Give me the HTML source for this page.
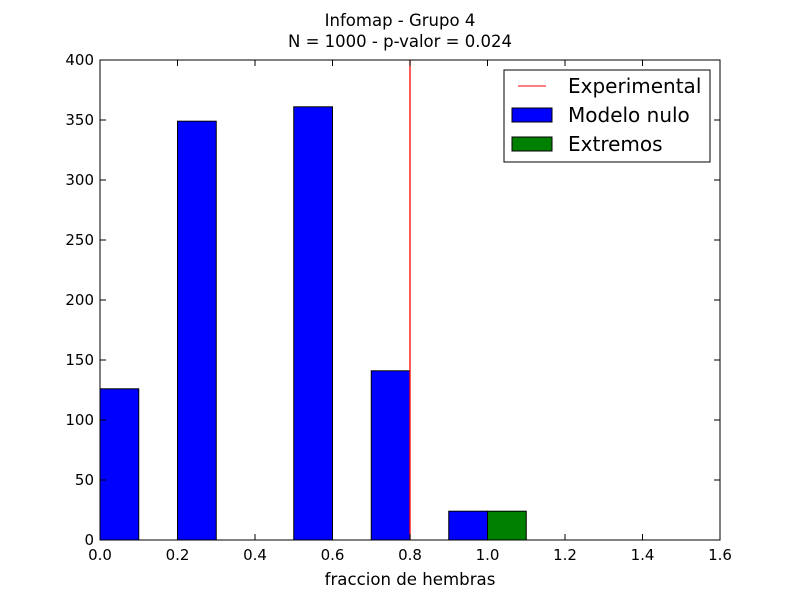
<!DOCTYPE html>
<html><head><meta charset="utf-8"><style>
body{margin:0;background:#fff;}
svg text{font-family:"DejaVu Sans","Liberation Sans",sans-serif;}
</style></head><body>
<svg id="chart" width="800" height="600" xmlns="http://www.w3.org/2000/svg">
<rect width="800" height="600" fill="#fff"/>
<text x="400" y="26" text-anchor="middle" font-size="16.5">Infomap - Grupo 4</text>
<text x="400" y="47" text-anchor="middle" font-size="16.5">N = 1000 - p-valor = 0.024</text>
<g id="bars"></g>
<g id="axes"></g>
<text x="410" y="585" text-anchor="middle" font-size="16.6">fraccion de hembras</text>
<g>
<rect x="504" y="70" width="206" height="92" fill="#fff" stroke="#000" stroke-width="1"/>
<line x1="518" y1="86" x2="546" y2="86" stroke="#ff0000"/>
<text x="568" y="93" font-size="20">Experimental</text>
<rect x="512" y="108" width="40" height="14" fill="#0000ff" stroke="#000"/>
<text x="568" y="122" font-size="20">Modelo nulo</text>
<rect x="512" y="137" width="40" height="14" fill="#008000" stroke="#000"/>
<text x="568" y="151" font-size="20">Extremos</text>
</g>
</svg>
<script>
const binStarts=[0,0.1,0.2,0.3,0.4,0.5,0.6,0.7,0.8,0.9,1.0,1.1,1.2,1.3,1.4];
const nullCounts=[126,0,349,0,0,361,0,141,0,24,0,0,0,0,0];
const extremeStarts=[1.0];
const extremeCounts=[24];
const binWidth=0.1;
const experimental=0.8;
const xTicks=[0,0.2,0.4,0.6,0.8,1.0,1.2,1.4,1.6];
const xTickLabels=["0.0","0.2","0.4","0.6","0.8","1.0","1.2","1.4","1.6"];
const yTicks=[0,50,100,150,200,250,300,350,400];
const L=100,R=720,T=60,B=540;
const xs=v=>L+(v-0)/(1.6)*(R-L);
const ys=v=>B-v/400*(B-T);
const NS="http://www.w3.org/2000/svg";
function mk(tag,attrs,parent){const e=document.createElementNS(NS,tag);for(const k in attrs)e.setAttribute(k,attrs[k]);parent.appendChild(e);return e;}
const bars=document.getElementById('bars'),axes=document.getElementById('axes');
mk('line',{x1:xs(0),y1:B,x2:xs(1.5),y2:B,stroke:'#000'},bars);
binStarts.forEach((s,i)=>{if(nullCounts[i]<=0)return;
const r=mk('rect',{x:xs(s),y:ys(nullCounts[i]),width:xs(s+binWidth)-xs(s),height:B-ys(nullCounts[i]),fill:'#0000ff',stroke:'#000'},bars);

});
extremeStarts.forEach((s,i)=>{
const r=mk('rect',{x:xs(s),y:ys(extremeCounts[i]),width:xs(s+binWidth)-xs(s),height:B-ys(extremeCounts[i]),fill:'#008000',stroke:'#000'},bars);

});
const ex=mk('line',{x1:xs(experimental),y1:T,x2:xs(experimental),y2:B,stroke:'#ff0000','stroke-width':1.3},bars);


const frame=mk('rect',{x:L,y:T,width:R-L,height:B-T,fill:'none',stroke:'#000'},axes);


xTicks.forEach((v,i)=>{const x=xs(v);
mk('line',{x1:x,y1:B,x2:x,y2:B-6,stroke:'#000'},axes);
mk('line',{x1:x,y1:T,x2:x,y2:T+6,stroke:'#000'},axes);
const t=mk('text',{x:x,y:B+20,'text-anchor':'middle','font-size':15},axes);t.textContent=xTickLabels[i];

});
yTicks.forEach(v=>{const y=ys(v);
mk('line',{x1:L,y1:y,x2:L+6,y2:y,stroke:'#000'},axes);
mk('line',{x1:R,y1:y,x2:R-6,y2:y,stroke:'#000'},axes);
const t=mk('text',{x:L-6,y:y+5,'text-anchor':'end','font-size':15},axes);t.textContent=v;

});
</script>
</body></html>
